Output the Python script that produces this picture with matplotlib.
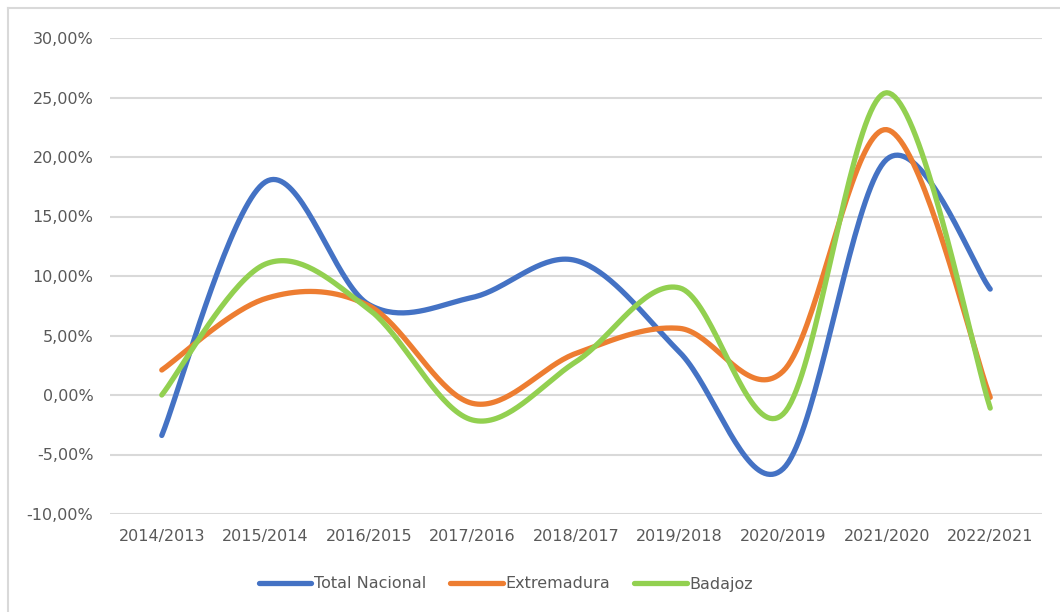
import numpy as np
import matplotlib
matplotlib.use('Agg')
from matplotlib import pyplot as plt
from matplotlib.lines import Line2D
from matplotlib.ticker import FuncFormatter

#--------------------------------------------------------60
# Data (year-over-year change, %)

categories = ['2014/2013', '2015/2014', '2016/2015', '2017/2016', '2018/2017',
              '2019/2018', '2020/2019', '2021/2020', '2022/2021']

total_nacional = [-3.4, 17.9, 7.6, 8.2, 11.3, 3.6, -6.2, 19.8, 8.9]
extremadura    = [ 2.1,  8.1, 7.5, -0.7, 3.5, 5.6, 2.0, 22.3, -0.2]
badajoz        = [ 0.0, 11.0, 7.2, -2.1, 2.8, 9.0, -1.6, 25.4, -1.1]

series_names  = ['Total Nacional', 'Extremadura', 'Badajoz']
series_values = [total_nacional, extremadura, badajoz]
colors = ['#4472C4', '#ED7D31', '#92D050']

#--------------------------------------------------------60

def smooth_curve(x, y, n=40):
    """Catmull-Rom style bezier smoothing (like Excel 'smoothed line')."""
    x = np.asarray(x, float); y = np.asarray(y, float)
    px = np.concatenate([[x[0]], x, [x[-1]]])
    py = np.concatenate([[y[0]], y, [y[-1]]])
    xs, ys = [], []
    t = np.linspace(0, 1, n)
    for i in range(len(x) - 1):
        p0 = np.array([px[i+1], py[i+1]])
        p3 = np.array([px[i+2], py[i+2]])
        c1 = p0 + (np.array([px[i+2], py[i+2]]) - np.array([px[i], py[i]]))/6.0
        c2 = p3 - (np.array([px[i+3], py[i+3]]) - np.array([px[i+1], py[i+1]]))/6.0
        b = ((1-t)**3)[:, None]*p0 + (3*(1-t)**2*t)[:, None]*c1 \
            + (3*(1-t)*t**2)[:, None]*c2 + (t**3)[:, None]*p3
        xs.append(b[:, 0]); ys.append(b[:, 1])
    return np.concatenate(xs), np.concatenate(ys)

plt.rcParams['font.family'] = ['DejaVu Sans']
text_color = '#595959'
grid_color = '#D9D9D9'

fig = plt.figure(figsize=(10.6, 6.12), dpi=100)
ax = fig.add_axes([110/1060, 1-514/612, (1042-110)/1060, (514-38)/612])

xpos = np.arange(len(categories))
for name, vals, col in zip(series_names, series_values, colors):
    sx, sy = smooth_curve(xpos, vals)
    ax.plot(sx, sy, color=col, lw=3.8, solid_capstyle='round', label=name,
            zorder=3)

ax.set_xlim(-0.5, len(categories) - 0.5)
ax.set_ylim(-10, 30)
ax.set_yticks(np.arange(-10, 31, 5))
ax.yaxis.set_major_formatter(FuncFormatter(
    lambda v, p: ('%.2f%%' % v).replace('.', ',')))
ax.set_xticks(xpos)
ax.set_xticklabels(categories)

ax.grid(axis='y', color=grid_color, lw=1.5, zorder=0)
for s in ax.spines.values():
    s.set_visible(False)
ax.tick_params(length=0, labelsize=11.5, colors=text_color)
ax.tick_params(axis='y', pad=12)
ax.tick_params(axis='x', pad=11)

leg = fig.legend(loc='center', bbox_to_anchor=(0.477, 1-584/612), ncol=3,
                 frameon=False, fontsize=11.5, handlelength=3.3,
                 handletextpad=0.15, columnspacing=1.5)
for t in leg.get_texts():
    t.set_color(text_color)

# Chart frame (only top/left edges visible in the crop)
fig.add_artist(Line2D([8/1060, 8/1060], [0, 1-8/612], transform=fig.transFigure,
                      color=grid_color, lw=1.5))
fig.add_artist(Line2D([8/1060, 1], [1-8/612, 1-8/612], transform=fig.transFigure,
                      color=grid_color, lw=1.5))

fig.savefig('out.png', dpi=100)
